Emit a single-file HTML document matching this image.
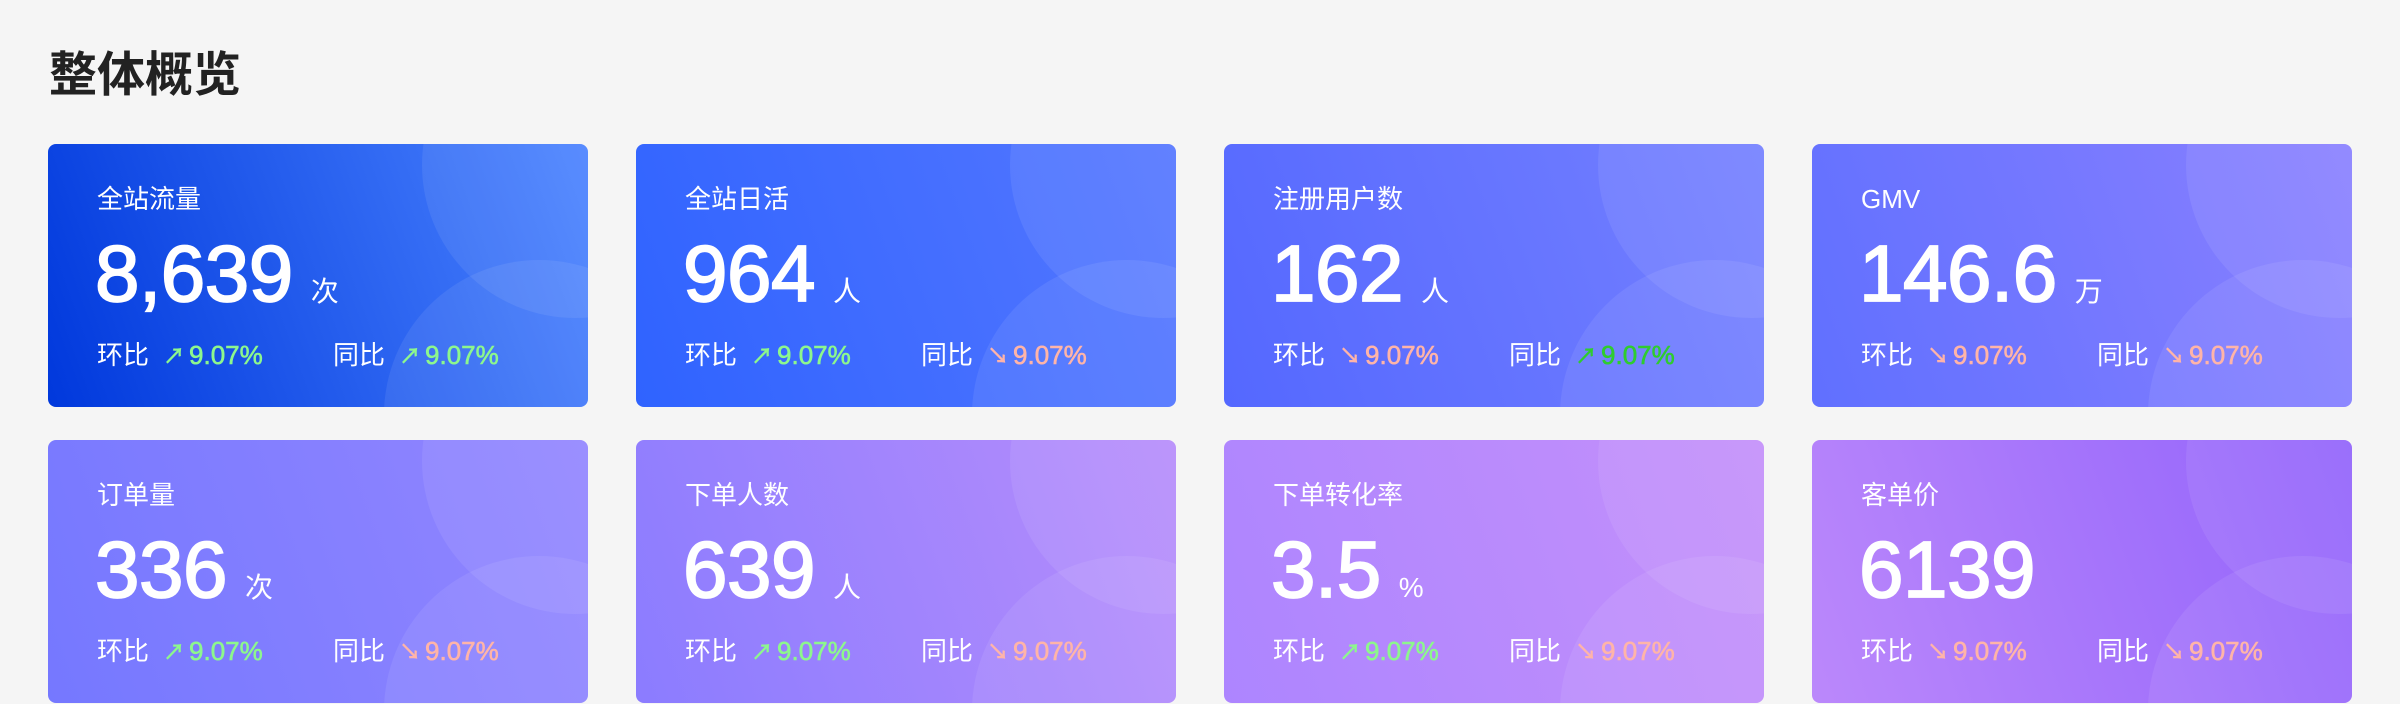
<!DOCTYPE html>
<html><head><meta charset="utf-8">
<style>
body{margin:0;width:2400px;height:704px;background:#f5f5f5;overflow:hidden;font-family:"Liberation Sans","Noto Sans CJK SC",sans-serif;position:relative}
h1{position:absolute;left:49px;top:44px;margin:0;font-size:48px;font-weight:bold;color:#222;line-height:64px}
.card{position:absolute;width:540px;height:263px;border-radius:8px;overflow:hidden;color:#fff}
.c1,.c2{position:absolute;border-radius:50%;background:rgba(255,255,255,0.08)}
.c1{left:374px;top:-132px;width:306px;height:306px}
.c2{left:336px;top:116px;width:310px;height:310px}
.label{position:absolute;left:49px;top:38px;font-size:26px;line-height:34px}
.num{position:absolute;left:47px;top:82px;font-size:80px;line-height:96px;letter-spacing:-0.5px;-webkit-text-stroke:1.8px #fff}
.num span{font-size:28px;margin-left:18px;letter-spacing:0;-webkit-text-stroke:0}
.row{position:absolute;left:49px;top:194px;font-size:26px;line-height:34px;white-space:nowrap}
.row .g{position:absolute;top:0}
.v{font-size:26px;-webkit-text-stroke:0.6px currentColor}
.up{color:#8df78d}.dn{color:#ffb4a8}.dg{color:#2fcc2f}
.ar{display:inline-block;width:26px;margin-left:14px;font-size:22px;font-weight:bold}
</style></head><body>
<h1>整体概览</h1>
<div id="wrap"></div>
<script>
const titles=["全站流量","全站日活","注册用户数","GMV","订单量","下单人数","下单转化率","客单价"];
const values=["8,639","964","162","146.6","336","639","3.5","6139"];
const units=["次","人","人","万","次","人","%",""];
const hb=["up","up","dn","dn","up","up","up","dn"];
const tb=["up","dn","dg","dn","dn","dn","dn","dn"];
const grads=[["#0038dc","#4b83ff"],["#2f63ff","#5577ff"],["#5468ff","#7580ff"],["#6070ff","#8a80ff"],["#7578ff","#9386ff"],["#8b7cff","#b78dfb"],["#ad85ff","#c490fa"],["#bb88fb","#9263fb"]];
const wrap=document.getElementById('wrap');
titles.forEach((t,i)=>{
  const c=document.createElement('div');
  
  
  c.className='card';
  c.style.left=(48+588*(i%4))+'px';
  c.style.top=(i<4?144:440)+'px';
  c.style.background=`linear-gradient(70deg,${grads[i][0]},${grads[i][1]})`;
  const arrow=k=>k=='dn'?'↘':'↗';
  c.innerHTML=`<div class="c1"></div><div class="c2"></div>
  <div class="label">${t}</div>
  <div class="num">${values[i]}${units[i]?'<span>'+units[i]+'</span>':''}</div>
  <div class="row"><span class="g" style="left:0">环比<span class="ar ${hb[i]}">${arrow(hb[i])}</span><span class="v ${hb[i]}">9.07%</span></span><span class="g" style="left:236px">同比<span class="ar ${tb[i]}">${arrow(tb[i])}</span><span class="v ${tb[i]}">9.07%</span></span></div>`;
  const lab=c.querySelector('.label');
  
  
  const n=c.querySelector('.num');
  
  
  const r=c.querySelector('.row');
  
  
  wrap.appendChild(c);
});
</script>
</body></html>
